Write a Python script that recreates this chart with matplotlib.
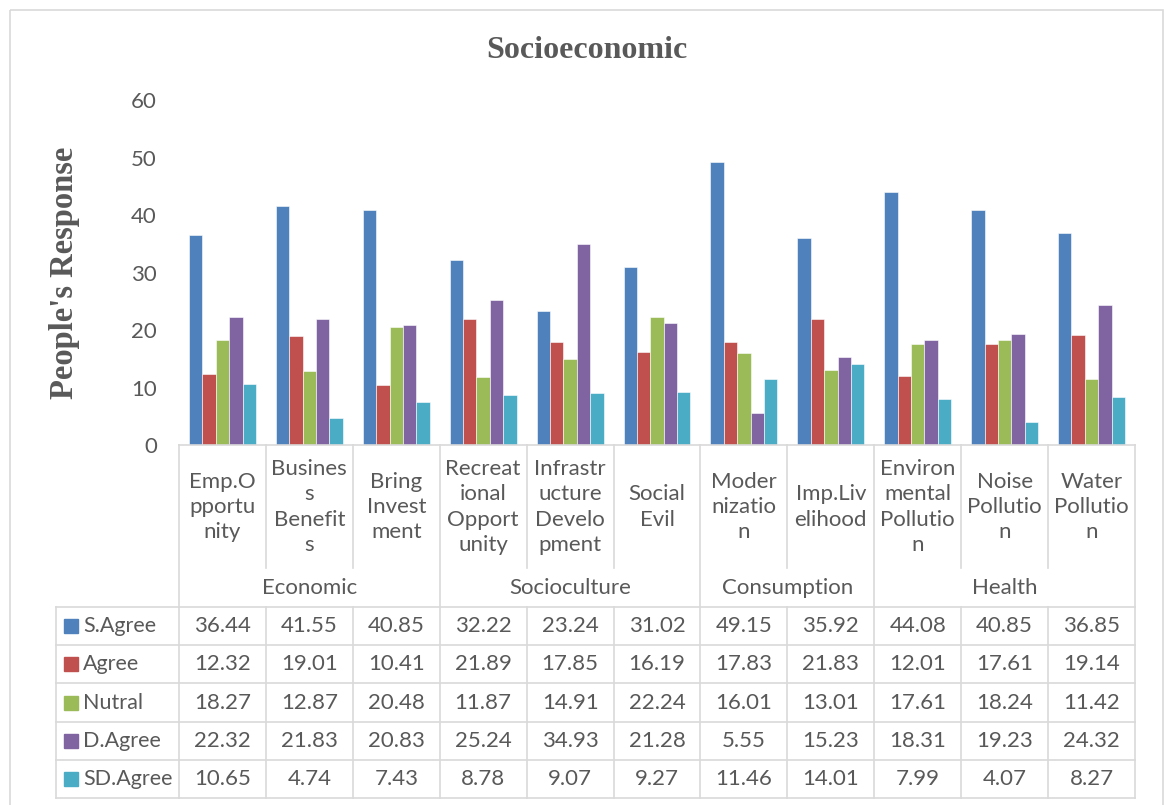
import matplotlib.pyplot as plt
import matplotlib.transforms as mtransforms
from matplotlib.patches import Rectangle

# categories (wrapped as in the table header), groups and responses
categories = ["Emp.O\npportu\nnity", "Busines\ns\nBenefit\ns", "Bring\nInvest\nment",
              "Recreat\nional\nOpport\nunity", "Infrastr\nucture\nDevelo\npment", "Social\nEvil",
              "Moder\nnizatio\nn", "Imp.Liv\nelihood", "Environ\nmental\nPollutio\nn",
              "Noise\nPollutio\nn", "Water\nPollutio\nn"]
groups = ["Economic", "Socioculture", "Consumption", "Health"]
group_sizes = [3, 3, 2, 3]

series = ["S.Agree", "Agree", "Nutral", "D.Agree", "SD.Agree"]
s_agree = [36.44, 41.55, 40.85, 32.22, 23.24, 31.02, 49.15, 35.92, 44.08, 40.85, 36.85]
agree = [12.32, 19.01, 10.41, 21.89, 17.85, 16.19, 17.83, 21.83, 12.01, 17.61, 19.14]
nutral = [18.27, 12.87, 20.48, 11.87, 14.91, 22.24, 16.01, 13.01, 17.61, 18.24, 11.42]
d_agree = [22.32, 21.83, 20.83, 25.24, 34.93, 21.28, 5.55, 15.23, 18.31, 19.23, 24.32]
sd_agree = [10.65, 4.74, 7.43, 8.78, 9.07, 9.27, 11.46, 14.01, 7.99, 4.07, 8.27]
values = [s_agree, agree, nutral, d_agree, sd_agree]
colors = ["#4F81BD", "#C0504D", "#9BBB59", "#8064A2", "#4BACC6"]

W, H = 1164, 805
txt = "#595959"
grid = "#D9D9D9"
font = "Lato"

fig = plt.figure(figsize=(W / 100, H / 100), dpi=100)

# pixel coordinates measured from the top-left corner
px = mtransforms.Affine2D().scale(1 / W, -1 / H).translate(0, 1) + fig.transFigure

# chart area border
fig.patches.append(Rectangle((10, 10), 1153, 805, transform=px, fill=False,
                             edgecolor=grid, lw=1.2))

ax_left, ax_right, ax_top, ax_bottom = 179, 1135, 100, 445
ax = fig.add_axes([ax_left / W, 1 - ax_bottom / H, (ax_right - ax_left) / W,
                   (ax_bottom - ax_top) / H])

n = len(categories)
bw = 0.154
for j, (name, vals, c) in enumerate(zip(series, values, colors)):
    xs = [i + (j - 2) * bw for i in range(n)]
    ax.bar(xs, vals, width=bw, color=c, edgecolor="white", linewidth=0.4)

ax.set_xlim(-0.5, n - 0.5)
ax.set_ylim(0, 60)
ax.set_yticks(range(0, 61, 10))
ax.set_xticks([])
ax.tick_params(axis="y", length=0, pad=16, labelsize=16, labelcolor=txt)
for lab in ax.get_yticklabels():
    lab.set_fontfamily(font)
for s in ["top", "right", "left"]:
    ax.spines[s].set_visible(False)
ax.spines["bottom"].set_color(grid)
ax.spines["bottom"].set_linewidth(1.2)

fig.text(587 / W, 1 - 50 / H, "Socioeconomic", ha="center", va="center",
         fontsize=23, fontweight="bold", family="Liberation Serif", color=txt)
fig.text(65 / W, 1 - 273 / H, "People's Response", ha="center", va="center",
         rotation=90, fontsize=23.5, fontweight="bold", family="Liberation Serif", color=txt)

# data table below the axis: x in data units, y in pixels
tr = mtransforms.blended_transform_factory(ax.transData, px)
cat_bot, grp_bot = 568, 607
row_h = 38.2
rows_top = grp_bot
table_bot = rows_top + row_h * len(series)
table_left = 56


def line(x, y, t=tr):
    ax.plot(x, y, color=grid, lw=1.2, transform=t, clip_on=False)


# category separators (full height at group boundaries)
bounds = [0]
for g in group_sizes:
    bounds.append(bounds[-1] + g)
for i in range(n + 1):
    xb = i - 0.5
    if i not in bounds:
        line([xb, xb], [ax_bottom, cat_bot])
        line([xb, xb], [rows_top, table_bot])
    else:
        line([xb, xb], [ax_bottom, table_bot])

for i, cat in enumerate(categories):
    ax.text(i, 507, cat, transform=tr, ha="center", va="center", fontsize=16,
            family=font, color=txt, linespacing=1.32, clip_on=False)

for g, start, size in zip(groups, bounds[:-1], group_sizes):
    ax.text(start + (size - 1) / 2, 588, g, transform=tr, ha="center", va="center",
            fontsize=16, family=font, color=txt, clip_on=False)

# rows
for r in range(len(series) + 1):
    y = rows_top + r * row_h
    line([table_left, ax_left], [y, y], t=px)
    line([-0.5, n - 0.5], [y, y])
line([table_left, table_left], [rows_top, table_bot], t=px)

for r, (name, vals, c) in enumerate(zip(series, values, colors)):
    yc = rows_top + (r + 0.5) * row_h
    fig.patches.append(Rectangle((64, yc - 7), 14, 14, transform=px, color=c))
    fig.text(83 / W, 1 - yc / H, name, ha="left", va="center", fontsize=15.5,
             family=font, color=txt)
    for i, v in enumerate(vals):
        ax.text(i, yc, f"{v:.2f}", transform=tr, ha="center", va="center",
                fontsize=16, family=font, color=txt, clip_on=False)

fig.savefig("out.png", dpi=100)
